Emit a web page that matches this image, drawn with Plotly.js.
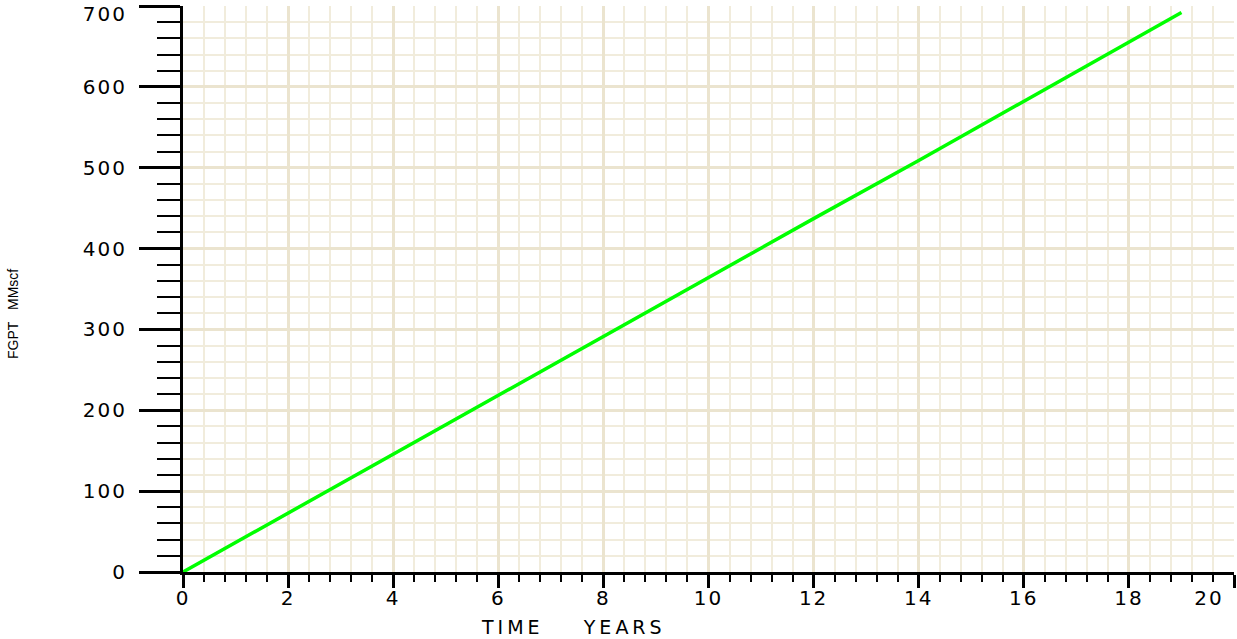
<!DOCTYPE html>
<html>
<head>
<meta charset="utf-8">
<script src="https://cdn.plot.ly/plotly-3.0.1.min.js"></script>
<style>
html,body{margin:0;padding:0;background:#fff;}
#chart{width:1237px;height:639px;}
.xtick text, .ytick text { letter-spacing: 2px; }
.annotation.xt text { letter-spacing: 4px; }
</style>
</head>
<body>
<div id="chart"></div>
<script>
// Data
const timeYears = [0, 2, 4, 6, 8, 10, 12, 14, 16, 18, 19.0];
const fgptMMscf = [0, 73, 146, 218, 291, 364, 437, 509, 582, 655, 692];
const xTickVals = [0, 2, 4, 6, 8, 10, 12, 14, 16, 18, 20];
const xTickText = ["0", "2", "4", "6", "8", "10", "12", "14", "16", "18", "20"];
const yTickVals = [0, 100, 200, 300, 400, 500, 600, 700];
const yTickText = ["0", "100", "200", "300", "400", "500", "600", "700"];
const xTitle = "TIME\u00a0\u00a0\u00a0\u00a0YEARS";
const yTitle = "FGPT\u00a0\u00a0\u00a0MMscf";

const tickFont = {family: "DejaVu Sans", size: 20, color: "#000"};
const minorGrid = "#f1ecdc";
const majorGrid = "#ebe4cf";

const trace = {
  x: timeYears,
  y: fgptMMscf,
  type: "scatter",
  mode: "lines",
  line: {color: "#00ff00", width: 3.5},
  hoverinfo: "x+y"
};

const layout = {
  width: 1237,
  height: 639,
  margin: {l: 183, r: 3, t: 6, b: 67},
  paper_bgcolor: "#ffffff",
  plot_bgcolor: "#ffffff",
  showlegend: false,
  xaxis: {
    range: [0, 20],
    tickvals: xTickVals,
    ticktext: xTickText,
    ticks: "outside",
    ticklen: 13,
    tickwidth: 3,
    tickcolor: "#000",
    tickfont: tickFont,
    ticklabelstandoff: -7,
    ticklabeloverflow: "allow",
    showline: true,
    linecolor: "#000",
    linewidth: 3,
    showgrid: true,
    gridcolor: majorGrid,
    gridwidth: 3,
    zeroline: false,
    minor: {dtick: 0.4, tick0: 0, ticks: "outside", ticklen: 7, tickwidth: 2, tickcolor: "#000",
            showgrid: true, gridcolor: minorGrid, gridwidth: 2}
  },
  yaxis: {
    range: [0, 700],
    tickvals: yTickVals,
    ticktext: yTickText,
    ticks: "outside",
    ticklen: 41,
    tickwidth: 3,
    tickcolor: "#000",
    tickfont: tickFont,
    ticklabelstandoff: 8,
    ticklabeloverflow: "allow",
    showline: true,
    linecolor: "#000",
    linewidth: 3,
    showgrid: true,
    gridcolor: majorGrid,
    gridwidth: 3,
    zeroline: false,
    minor: {dtick: 20, tick0: 0, ticks: "outside", ticklen: 23, tickwidth: 2, tickcolor: "#000",
            showgrid: true, gridcolor: minorGrid, gridwidth: 2}
  },
  annotations: [
    {text: xTitle, xref: "paper", yref: "paper", x: (573 - 183) / 1051, y: -(627 - 572) / 566,
     xanchor: "center", yanchor: "middle", showarrow: false,
     font: {family: "DejaVu Sans", size: 19, color: "#000"}},
    {text: yTitle, xref: "paper", yref: "paper", x: -(183 - 13) / 1051, y: (572 - 314) / 566,
     xanchor: "center", yanchor: "middle", showarrow: false, textangle: -90,
     font: {family: "Liberation Sans", size: 14, color: "#000"}}
  ]
};

Plotly.newPlot("chart", [trace], layout, {displayModeBar: false, staticPlot: true}).then(function () {
  // give the x title annotation a class so its letter spacing can be styled
  const ann = document.querySelectorAll("g.annotation");
  if (ann.length) ann[0].classList.add("xt");
  // nudge the end labels inward, as in the reference
  document.querySelectorAll("g.xtick text").forEach(function (t) {
    if (t.textContent === "20") t.setAttribute("x", (parseFloat(t.getAttribute("x")) || 0) - 25);
  });
  document.querySelectorAll("g.ytick text").forEach(function (t) {
    if (t.textContent === "700") t.setAttribute("y", (parseFloat(t.getAttribute("y")) || 0) + 8);
  });
});
</script>
</body>
</html>
